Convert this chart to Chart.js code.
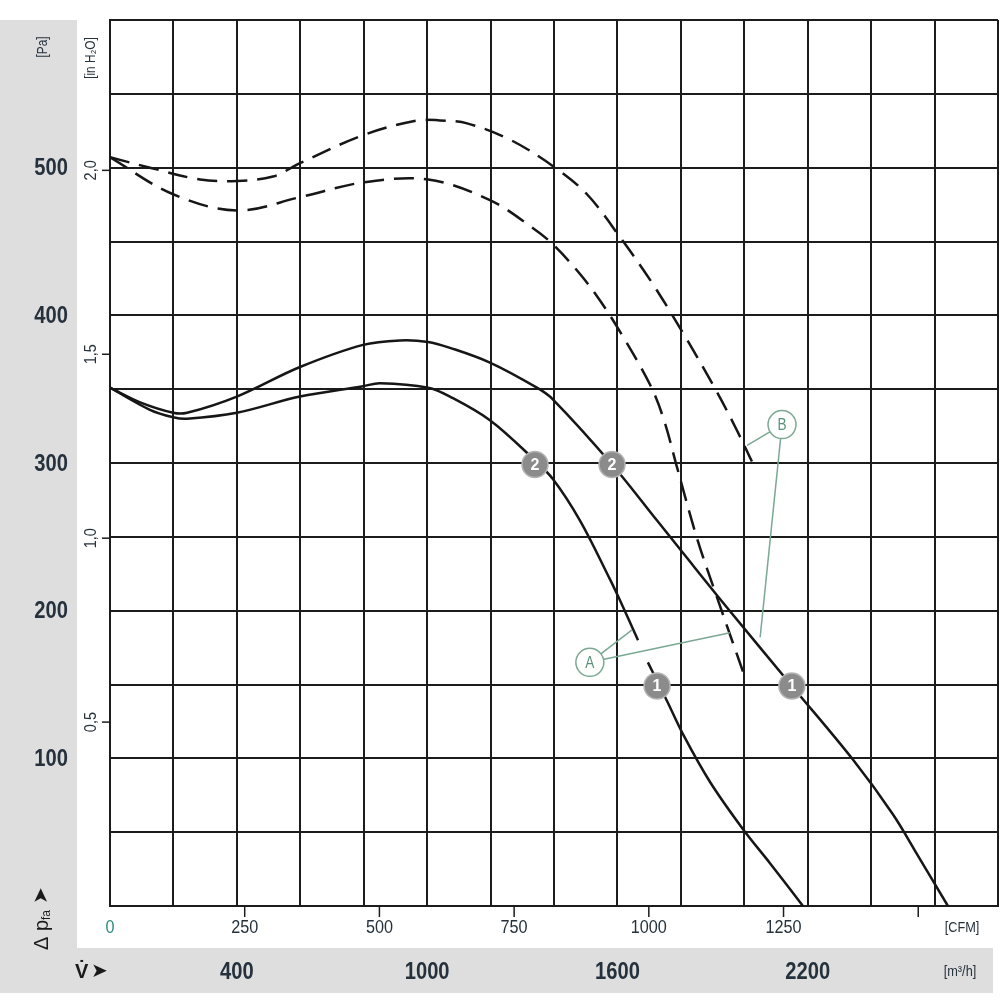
<!DOCTYPE html>
<html>
<head>
<meta charset="utf-8">
<script src="https://cdn.jsdelivr.net/npm/chart.js@4.4.1/dist/chart.umd.min.js"></script>
<style>
  html, body { margin: 0; padding: 0; background: #fff; }
  #wrap { width: 1000px; height: 1000px; position: relative; }
</style>
</head>
<body>
<div id="wrap"><canvas id="fanChart"></canvas></div>
<script>
/* ── Kennlinien: Volumenstrom [m³/h] / Druck [Pa] ── */
const solidUpperFlow = [0, 95, 199, 243, 400, 599, 798, 914, 1003, 1072, 1198, 1346, 1397, 1583, 1725, 1807, 1946, 2154, 2343, 2469, 2545, 2642];
const solidUpperPa   = [351, 341, 334, 334, 345, 365, 380, 383, 382, 378, 368, 351, 343, 299, 261, 239, 202, 148, 99, 62, 35, 0];

const solidLowerFlow = [0, 126, 199, 243, 400, 599, 798, 851, 1003, 1072, 1198, 1334, 1397, 1482, 1577, 1608, 1665, 1680, 1696, 1756, 1810, 1892, 1996, 2081, 2185];
const solidLowerPa   = [351, 336, 331, 330, 334, 345, 352, 354, 351, 345, 329, 303, 289, 261, 221, 207, 180, null, 165, 139, 115, 84, 52, 29, 0];

const dashUpperFlow = [0, 126, 284, 400, 514, 599, 798, 968, 1040, 1126, 1261, 1397, 1504, 1608, 1703, 1807, 1914, 1977, 2024];
const dashUpperPa   = [507, 500, 492, 491, 494, 503, 522, 532, 532, 530, 519, 501, 482, 453, 424, 388, 348, 322, 301];

const dashLowerFlow = [0, 199, 400, 599, 798, 1003, 1198, 1334, 1397, 1482, 1545, 1608, 1703, 1747, 1788, 1851, 1914, 2002];
const dashLowerPa   = [507, 482, 471, 480, 490, 492, 478, 459, 448, 428, 410, 389, 353, 329, 297, 249, 209, 155];

/* ── Achsenbeschriftung ── */
const paTicks      = [100, 200, 300, 400, 500];
const inH2OTicks   = [0.5, 1.0, 1.5, 2.0];
const cfmTicks     = [0, 250, 500, 750, 1000, 1250];
const cfmMarks     = [250, 500, 750, 1000, 1250, 1500];
const m3hTicks     = [400, 1000, 1600, 2200];

/* ── Markierungen (Betriebspunkte 1/2, Kurven A/B) ── */
const pointLabels  = ['2', '2', '1', '1'];
const pointFlow    = [1340, 1583, 1725, 2150];
const pointPa      = [299, 299, 149, 149];

const curveLabels  = ['A', 'B'];
const curveFlow    = [1513, 2119];
const curvePa      = [165, 326];
const leaderFrom   = [0, 0, 1, 1];
const leaderFlow   = [1646, 1955, 2009, 2050];
const leaderPa     = [187, 185, 312, 182];

const CFM_TO_M3H = 1.699;
const INH2O_TO_PA = 249.09;

function pairs(xs, ys) {
  return xs.map(function (x, i) { return { x: x, y: ys[i] }; });
}

var c = {
  ink:   '#161616',
  grid:  '#1c1c1c',
  panel: '#dedede',
  text:  '#25313c',
  teal:  '#2b8a7c',
  green: '#7aa892',
  greenText: '#5b9277',
  badge: '#8b8b8b'
};

var SANS = "'Liberation Sans', Arial, sans-serif";

// schmal gezogener Text (Condensed-Ersatz)
function sq(ctx, txt, x, y, sx, rot) {
  ctx.save();
  ctx.translate(x, y);
  if (rot) ctx.rotate(-Math.PI / 2);
  ctx.scale(sx, 1);
  ctx.fillText(txt, 0, 0);
  ctx.restore();
}

var decorPlugin = {
  id: 'decor',
  beforeDraw: function (chart) {
    var ctx = chart.ctx;
    ctx.save();
    ctx.fillStyle = c.panel;
    ctx.fillRect(0, 20, 77, 973);
    ctx.fillRect(0, 948, 993, 45);
    ctx.restore();
  },
  afterDraw: function (chart) {
    var ctx = chart.ctx;
    var xs = chart.scales.x, ys = chart.scales.y;
    var area = chart.chartArea;
    ctx.save();
    ctx.textBaseline = 'middle';

    // Pa
    ctx.fillStyle = c.text;
    ctx.font = 'bold 24px ' + SANS;
    ctx.textAlign = 'right';
    paTicks.forEach(function (v) {
      sq(ctx, String(v), 68, ys.getPixelForValue(v) + 1, 0.84);
    });
    ctx.textAlign = 'center';
    ctx.font = '14px ' + SANS;
    sq(ctx, '[Pa]', 43, 47, 0.85, true);

    // in H2O
    ctx.font = '17px ' + SANS;
    ctx.strokeStyle = c.grid;
    ctx.lineWidth = 1.5;
    inH2OTicks.forEach(function (v) {
      var py = ys.getPixelForValue(v * INH2O_TO_PA);
      sq(ctx, v.toFixed(1).replace('.', ','), 91, py, 0.85, true);
      ctx.beginPath();
      ctx.moveTo(area.left - 8, py);
      ctx.lineTo(area.left, py);
      ctx.stroke();
    });
    ctx.font = '14px ' + SANS;
    sq(ctx, '[in H\u2082O]', 91, 58, 0.85, true);

    // CFM
    ctx.font = '18px ' + SANS;
    cfmTicks.forEach(function (v) {
      ctx.fillStyle = v === 0 ? c.teal : c.text;
      sq(ctx, String(v), xs.getPixelForValue(v * CFM_TO_M3H), 928, 0.9);
    });
    cfmMarks.forEach(function (v) {
      var px = xs.getPixelForValue(v * CFM_TO_M3H);
      ctx.beginPath();
      ctx.moveTo(px, area.bottom);
      ctx.lineTo(px, area.bottom + 11);
      ctx.stroke();
    });
    ctx.fillStyle = c.text;
    ctx.font = '15px ' + SANS;
    sq(ctx, '[CFM]', 962, 928, 0.85);

    // m3/h
    ctx.font = 'bold 24px ' + SANS;
    m3hTicks.forEach(function (v) {
      sq(ctx, String(v), xs.getPixelForValue(v), 972, 0.84);
    });
    ctx.font = '15px ' + SANS;
    sq(ctx, '[m\u00B3/h]', 960, 972, 0.85);

    // V-Punkt Pfeil
    ctx.fillStyle = '#1a1a1a';
    ctx.font = 'bold 20px ' + SANS;
    ctx.textAlign = 'left';
    ctx.fillText('V\u0307', 75, 972);
    ctx.font = '20px DejaVu Sans';
    ctx.fillText('\u27A4', 91, 972);

    // Δ p_fa Pfeil (gedreht)
    ctx.save();
    ctx.translate(42, 950);
    ctx.rotate(-Math.PI / 2);
    ctx.textAlign = 'left';
    ctx.font = '20px ' + SANS;
    ctx.fillText('\u0394 p', 0, 0);
    var w = ctx.measureText('\u0394 p').width;
    ctx.font = '12px ' + SANS;
    ctx.fillText('fa', w, 5);
    var w2 = ctx.measureText('fa').width;
    ctx.font = '20px DejaVu Sans';
    ctx.fillText('\u27A4', w + w2 + 6, 0);
    ctx.restore();

    // Leader lines A/B
    ctx.strokeStyle = c.green;
    ctx.lineWidth = 1.5;
    leaderFrom.forEach(function (k, i) {
      ctx.beginPath();
      ctx.moveTo(xs.getPixelForValue(curveFlow[k]), ys.getPixelForValue(curvePa[k]));
      ctx.lineTo(xs.getPixelForValue(leaderFlow[i]), ys.getPixelForValue(leaderPa[i]));
      ctx.stroke();
    });
    curveLabels.forEach(function (t, k) {
      var px = xs.getPixelForValue(curveFlow[k]), py = ys.getPixelForValue(curvePa[k]);
      ctx.beginPath();
      ctx.arc(px, py, 14, 0, Math.PI * 2);
      ctx.fillStyle = '#fff';
      ctx.fill();
      ctx.stroke();
      ctx.fillStyle = c.greenText;
      ctx.font = '16px ' + SANS;
      ctx.textAlign = 'center';
      sq(ctx, t, px, py + 1, 0.85);
    });

    // Betriebspunkte
    pointLabels.forEach(function (t, i) {
      var px = xs.getPixelForValue(pointFlow[i]), py = ys.getPixelForValue(pointPa[i]);
      ctx.beginPath();
      ctx.arc(px, py, 13, 0, Math.PI * 2);
      ctx.fillStyle = c.badge;
      ctx.fill();
      ctx.strokeStyle = '#b5b5b5';
      ctx.lineWidth = 1.5;
      ctx.stroke();
      ctx.fillStyle = '#fff';
      ctx.font = 'bold 16px ' + SANS;
      ctx.textAlign = 'center';
      ctx.fillText(t, px, py + 1);
    });
    ctx.restore();
  }
};

function lineSet(xs, ys, dashed) {
  return {
    data: pairs(xs, ys),
    borderColor: c.ink,
    borderWidth: 2.5,
    borderDash: dashed ? [20, 10] : [],
    pointRadius: 0,
    fill: false,
    spanGaps: false,
    tension: 0.35
  };
}

new Chart(document.getElementById('fanChart'), {
  type: 'line',
  data: {
    datasets: [
      lineSet(solidUpperFlow, solidUpperPa, false),
      lineSet(solidLowerFlow, solidLowerPa, false),
      lineSet(dashUpperFlow, dashUpperPa, true),
      lineSet(dashLowerFlow, dashLowerPa, true)
    ]
  },
  options: {
    responsive: true,
    maintainAspectRatio: false,
    animation: false,
    layout: { padding: { left: 110, top: 20, right: 2, bottom: 94 } },
    plugins: { legend: { display: false }, tooltip: { enabled: false } },
    scales: {
      x: {
        type: 'linear', min: 0, max: 2800,
        ticks: { display: false, stepSize: 200 },
        grid: { color: c.grid, lineWidth: 2, drawTicks: false },
        border: { display: true, color: c.grid, width: 2 }
      },
      y: {
        type: 'linear', min: 0, max: 600,
        ticks: { display: false, stepSize: 50 },
        grid: { color: c.grid, lineWidth: 2, drawTicks: false },
        border: { display: true, color: c.grid, width: 2 }
      }
    }
  },
  plugins: [decorPlugin]
});
</script>
</body>
</html>
